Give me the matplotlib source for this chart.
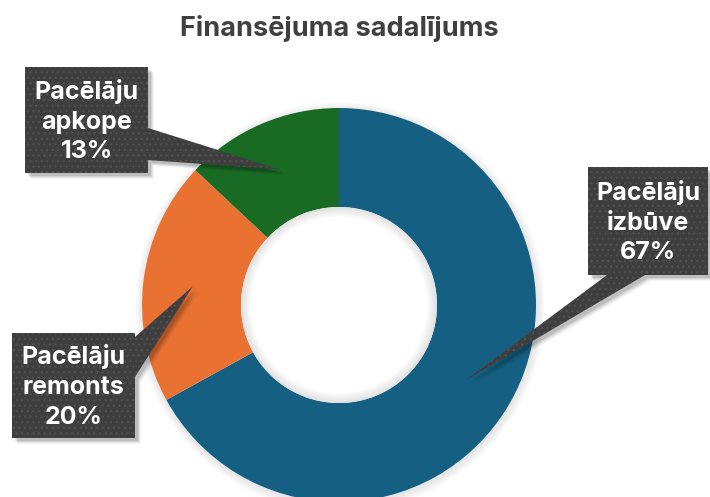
import numpy as np
import matplotlib
matplotlib.use("Agg")
import matplotlib.pyplot as plt
from matplotlib.patches import Rectangle, Polygon, Circle, Wedge

# Funding split data
categories = ["Pacēlāju izbūve", "Pacēlāju remonts", "Pacēlāju apkope"]
shares = [67, 20, 13]
slice_colors = ["#156082", "#E97132", "#196B24"]

plt.rcParams['font.family'] = ['Inter', 'DejaVu Sans']

fig = plt.figure(figsize=(7.1, 4.97), dpi=100)
ax = fig.add_axes([0, 0, 1, 1])

# donut geometry in pixel units (y grows downward)
cx, cy = 339, 305
R_out, R_in = 197, 98

# soft glow around the ring
for k in range(8, 0, -1):
    ax.add_patch(Wedge((cx + 1, cy + 2), R_out + k, 0, 360, width=k + 4,
                       color="#000000", alpha=0.012, lw=0, zorder=0))

wedges, _ = ax.pie(shares, colors=slice_colors, startangle=-90, counterclock=True,
                   radius=R_out, center=(cx, cy), frame=False,
                   wedgeprops=dict(width=R_out - R_in, linewidth=0))

# inner shading of the hole
ax.add_patch(Circle((cx, cy), R_in, color="white", lw=0, zorder=2))
for k in range(10):
    ax.add_patch(Wedge((cx, cy), R_in, 0, 360, width=10 - k, color="#000000",
                       alpha=0.01, lw=0, zorder=3))

ax.set_xlim(0, 710)
ax.set_ylim(497, 0)
ax.set_aspect('equal')
ax.axis('off')

# callout boxes: (left, top, right, bottom) and leader base points
boxes = [
    ((588, 167, 708, 275), [(607, 275), (645, 275)]),
    ((12, 333, 135, 438), [(135, 337), (135, 377)]),
    ((25, 67, 148, 173), [(148, 128), (148, 160)]),
]

box_face = "#3e3e3e"
dot_color = "#505050"

for w, cat, val, (rect, base) in zip(wedges, categories, shares, boxes):
    mid = np.deg2rad((w.theta1 + w.theta2) / 2)
    rm = (R_out + R_in) / 2
    tip = (cx + rm * np.cos(mid), cy + rm * np.sin(mid))
    x0, y0, x1, y1 = rect
    tri = [base[0], base[1], tip]

    # drop shadow
    for off, a in [(6, 0.04), (5, 0.06), (4, 0.08), (3, 0.1)]:
        ax.add_patch(Rectangle((x0 + off, y0 + off), x1 - x0, y1 - y0,
                               color="#000000", alpha=a, lw=0, zorder=4))
        ax.add_patch(Polygon([(px + off, py + off) for px, py in tri],
                             color="#000000", alpha=a, lw=0, zorder=4))

    ax.add_patch(Rectangle((x0, y0), x1 - x0, y1 - y0, facecolor=box_face,
                           edgecolor=dot_color, hatch="...", lw=0, zorder=5))
    ax.add_patch(Polygon(tri, facecolor=box_face, edgecolor=dot_color,
                         hatch="...", lw=0, zorder=5))

    word1, word2 = cat.split(" ")
    ax.text((x0 + x1) / 2, (y0 + y1) / 2 + 1, f"{word1}\n{word2}\n{val}%",
            ha="center", va="center", color="white", fontsize=18,
            fontweight="bold", linespacing=1.38, zorder=6)

ax.text(339, 28, "Finansējuma sadalījums", ha="center", va="center",
        color="#404040", fontsize=19.5, fontweight="bold")

fig.savefig("out.png", dpi=100)
